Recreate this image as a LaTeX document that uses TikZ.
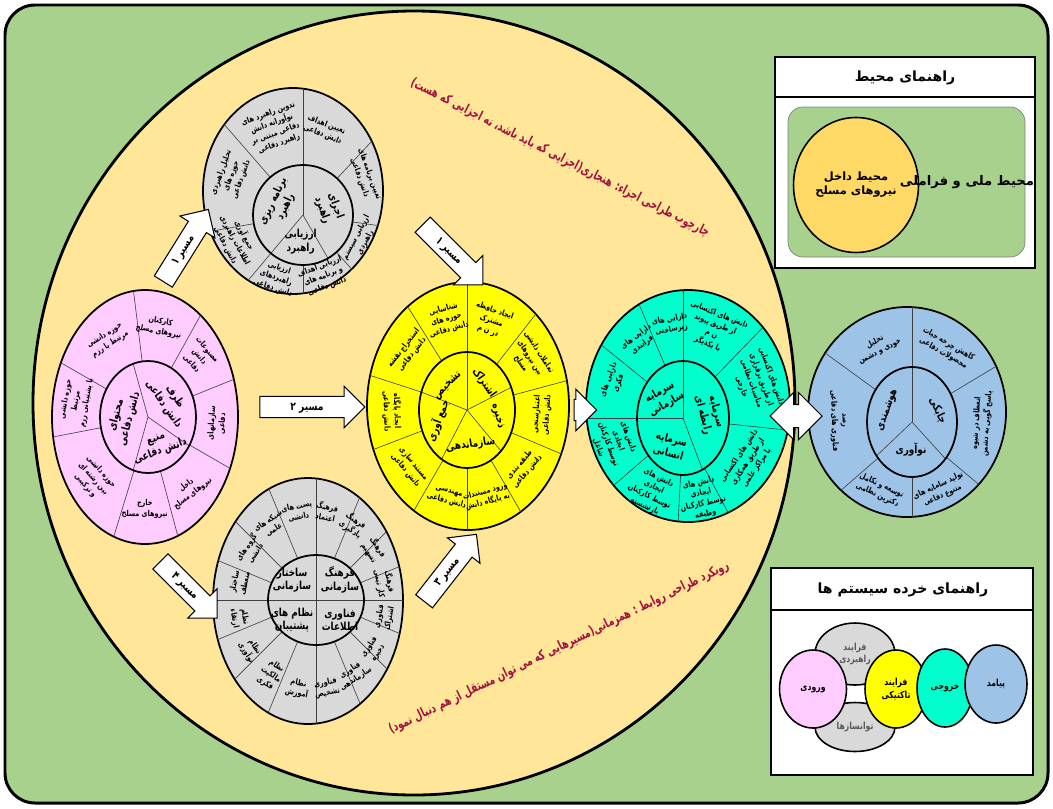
\documentclass[tikz,border=0pt]{standalone}
\usepackage{fontspec}
\usepackage{xcolor}
\usetikzlibrary{shapes.geometric, shapes.arrows, calc}
\newfontfamily\arabicfont[Script=Arabic]{DejaVu Sans}
\newfontfamily\narrowfont[Script=Arabic, FakeStretch=0.8]{DejaVu Sans}
\newfontfamily\titlefont[Script=Arabic, FakeStretch=0.7]{DejaVu Sans}
\TeXXeTstate=1
\newcommand{\fa}[1]{\mbox{\beginR#1\endR}}
\definecolor{FrameGreen}{HTML}{A9D18E}
\definecolor{FieldSand}{HTML}{FFE699}
\definecolor{LegendOrange}{HTML}{FFD966}
\definecolor{InputPink}{HTML}{FFCCFF}
\definecolor{ProcessGray}{HTML}{D9D9D9}
\definecolor{TacticYellow}{HTML}{FFFF00}
\definecolor{OutputCyan}{HTML}{00FFCC}
\definecolor{OutcomeBlue}{HTML}{9DC3E6}
\definecolor{TitleCrimson}{HTML}{A3123F}
\tikzset{
    wheelrim/.style={draw=black, line width=1pt},
    hubrim/.style={draw=black, line width=1pt},
    spoke/.style={draw=black!75, line width=0.35pt},
    petal/.style={
        font=\narrowfont\bfseries\fontsize{4.6}{6}\selectfont,
        align=center,
        inner sep=0pt
    },
    hublabel/.style={
        font=\narrowfont\bfseries\fontsize{6.3}{7.8}\selectfont,
        align=center,
        inner sep=0pt
    },
    routearrow/.style={
        single arrow, draw=black, fill=white, line width=0.6pt,
        single arrow head extend=0.2cm,
        inner xsep=2pt, inner ysep=2.5pt,
        text height=5pt, text depth=1.5pt,
        minimum height=1.7cm,
        font=\narrowfont\bfseries\fontsize{6.5}{7}\selectfont
    },
    twinarrow/.style={
        double arrow, draw=black, fill=white, line width=0.6pt,
        double arrow head extend=0.24cm,
        inner xsep=0pt, inner ysep=0.22cm,
        text height=0pt, text depth=0pt,
        minimum height=1.04cm
    },
    archtitle/.style={
        font=\titlefont\bfseries\fontsize{7.5}{9}\selectfont,
        text=TitleCrimson,
        inner sep=0pt
    },
    legendtitle/.style={
        font=\arabicfont\bfseries\fontsize{8}{9.5}\selectfont,
        inner sep=0pt
    },
    legendtext/.style={
        font=\arabicfont\bfseries\fontsize{7.5}{9}\selectfont,
        align=center,
        inner sep=0pt
    },
    miniball/.style={
        ellipse, draw=black, line width=0.9pt,
        inner sep=0pt, align=center,
        font=\narrowfont\bfseries\fontsize{5.5}{7}\selectfont
    }
}

\begin{document}
\begin{tikzpicture}[x=0.02cm, y=0.02cm]
    \useasboundingbox (0,0) rectangle (1053,-808);
    \fill[white] (0,0) rectangle (1053,-808);

    % Outer frame and design field
    \draw[line width=1.7pt, fill=FrameGreen, rounded corners=0.6cm] (5,-5) rectangle (1048,-803);
    \draw[line width=1.6pt, fill=FieldSand] (414,-403) ellipse [x radius=381, y radius=392];

    \node[archtitle, rotate=-27] (normtitle) at (560,-158)
        {\fa{چارچوب طراحی اجزاء: هنجاری(اجزایی که باید باشد، نه اجزایی که هست)}};
    \node[archtitle, rotate=26] (synctitle) at (559,-648)
        {\fa{رویکرد طراحی روابط : همزمانی(مسیرهایی که می توان مستقل از هم دنبال نمود)}};

    % Pink wheel
    \coordinate (pkc) at (145,-417);
    \coordinate (pkh) at (148,-417);
    \draw[wheelrim, fill=InputPink] (pkc) ellipse [x radius=93, y radius=127];
    \begin{scope}
        \clip (pkc) ellipse [x radius=93, y radius=127];
        \foreach \a in {97,61,22,-30,-75,-107,-169,150}
            \draw[spoke] (pkh) ++(\a:48 and 56) -- ++(\a:150);
    \end{scope}
    \foreach \a in {108,-31,-108}
        \draw[spoke] (pkh) -- ++(\a:48 and 56);
    \draw[hubrim] (pkh) ellipse [x radius=48, y radius=56];
    \foreach \a/\t [count=\i] in {
        123/{\fa{حوزه دانشی}\\\fa{مرتبط با رزم}},
        79/{\fa{کارکنان}\\\fa{نیروهای مسلح}},
        41/{\fa{مصنوعات}\\\fa{دانش}\\\fa{دفاعی}},
        -4/{\fa{سازمانهای}\\\fa{دفاعی}},
        -52/{\fa{داخل}\\\fa{نیروهای مسلح}},
        -91/{\fa{خارج}\\\fa{نیروهای مسلح}},
        -138/{\fa{حوزه دانشی}\\\fa{بین رشته ای}\\\fa{و ترکیبی}},
        170/{\fa{حوزه دانشی}\\\fa{مرتبط}\\\fa{با پشتیبانی رزم}}} {
        \pgfmathsetmacro\rot{\a>0 ? \a-90 : \a+90}
        \path (146,-417) ++(\a:71 and 92) node[petal, rotate=\rot] (pk\i) {\t};
    }
    \node[hublabel, rotate=75] (pkcontent) at ($(pkh)+(180:25)$) {\fa{محتوای}\\\fa{دانش دفاعی}};
    \node[hublabel, rotate=-55] (pkvessel) at ($(pkh)+(38:27)$) {\fa{ظرف}\\\fa{دانش دفاعی}};
    \node[hublabel, rotate=20] (pksource) at ($(pkh)+(-70:31)$) {\fa{منبع}\\\fa{دانش دفاعی}};

    % Top gray wheel: strategic process
    \coordinate (tgc) at (293,-191);
    \coordinate (tgh) at (303,-215);
    \draw[wheelrim, fill=ProcessGray] (tgc) ellipse [x radius=90, y radius=103];
    \begin{scope}
        \clip (tgc) ellipse [x radius=90, y radius=103];
        \foreach \a in {90,47,-8,-48,-90,-130,-170,131}
            \draw[spoke] (tgh) ++(\a:50) -- ++(\a:150);
    \end{scope}
    \foreach \a in {90,-60,-130}
        \draw[spoke] (tgh) -- ++(\a:50);
    \draw[hubrim] (tgh) circle [radius=50];
    \foreach \a/\t [count=\i] in {
        110/{\fa{تدوین راهبرد های}\\\fa{نوآورانه دانش}\\\fa{دفاعی مبتنی بر}\\\fa{راهبرد دفاعی}},
        68/{\fa{تعیین اهداف}\\\fa{دانش دفاعی}},
        20/{\fa{تعیین برنامه های}\\\fa{دانش دفاعی}},
        -28/{\fa{ارزیابی سیستم}\\\fa{راهبردی}},
        -69/{\fa{ارزیابی اهداف}\\\fa{و برنامه های}\\\fa{دانش دفاعی}},
        -108/{\fa{ارزیابی}\\\fa{راهبردهای}\\\fa{دانش دفاعی}},
        -152/{\fa{جمع آوری}\\\fa{اطلاعات راهبردی}\\\fa{دانش دفاعی}},
        160/{\fa{تحلیل راهبردی}\\\fa{حوزه های}\\\fa{دانش دفاعی}}} {
        \pgfmathsetmacro\rot{\a>0 ? \a-90 : \a+90}
        \path (298,-203) ++(\a:71 and 79) node[petal, rotate=\rot] (tg\i) {\t};
    }
    \node[hublabel, rotate=65] (tgplan) at ($(tgh)+(155:26)$) {\fa{برنامه ریزی}\\\fa{راهبرد}};
    \node[hublabel, rotate=-70] (tgrun) at ($(tgh)+(15:27)$) {\fa{اجرای}\\\fa{راهبرد}};
    \node[hublabel] (tgeval) at ($(tgh)+(-95:27)$) {\fa{ارزیابی}\\\fa{راهبرد}};

    % Bottom gray wheel: enablers
    \coordinate (bgc) at (308,-601);
    \coordinate (bgh) at (316,-600);
    \draw[wheelrim, fill=ProcessGray] (bgc) ellipse [x radius=95, y radius=123];
    \begin{scope}
        \clip (bgc) ellipse [x radius=95, y radius=123];
        \foreach \a in {0,22.5,...,337.5}
            \draw[spoke] (bgh) ++(\a:48 and 45) -- ++(\a:150);
    \end{scope}
    \foreach \a in {0,90,180,270}
        \draw[spoke] (bgh) -- ++(\a:48 and 45);
    \draw[hubrim] (bgh) ellipse [x radius=48, y radius=45];
    \foreach \a/\t [count=\i] in {
        78.75/{\fa{فرهنگ}\\\fa{اعتماد}},
        56.25/{\fa{فرهنگ}\\\fa{یادگیری}},
        33.75/{\fa{فرهنگ}\\\fa{تسهیم}},
        11.25/{\fa{فرهنگ}\\\fa{کار تیمی}},
        -11.25/{\fa{فناوری}\\\fa{اشتراک}},
        -33.75/{\fa{فناوری}\\\fa{ذخیره}},
        -56.25/{\fa{فناوری}\\\fa{سازماندهی}},
        -78.75/{\fa{فناوری}\\\fa{تشخیص}},
        -101.25/{\fa{نظام}\\\fa{آموزش}},
        -123.75/{\fa{نظام}\\\fa{مالکیت}\\\fa{فکری}},
        -146.25/{\fa{نظام}\\\fa{نوآوری}},
        -168.75/{\fa{نظام}\\\fa{ارتقاء}},
        168.75/{\fa{ساختار}\\\fa{منعطف}},
        146.25/{\fa{گروه های}\\\fa{دانشی}},
        123.75/{\fa{شبکه های}\\\fa{علمی}},
        101.25/{\fa{پست های}\\\fa{دانشی}}} {
        \pgfmathsetmacro\rot{\a>0 ? \a-90 : \a+90}
        \path (312,-600) ++(\a:74 and 90) node[petal, rotate=\rot] (bg\i) {\t};
    }
    \node[hublabel] (bgstruct) at ($(bgh)+(-24,20)$) {\fa{ساختار}\\\fa{سازمانی}};
    \node[hublabel] (bgculture) at ($(bgh)+(24,20)$) {\fa{فرهنگ}\\\fa{سازمانی}};
    \node[hublabel] (bgsupport) at ($(bgh)+(-24,-20)$) {\fa{نظام های}\\\fa{پشتیبان}};
    \node[hublabel] (bgit) at ($(bgh)+(24,-20)$) {\fa{فناوری}\\\fa{اطلاعات}};

    % Yellow wheel: tactical process
    \coordinate (ywc) at (468,-406);
    \coordinate (ywh) at (467,-410);
    \draw[wheelrim, fill=TacticYellow] (ywc) ellipse [x radius=101, y radius=124];
    \begin{scope}
        \clip (ywc) ellipse [x radius=101, y radius=124];
        \foreach \a in {90,52,15,-23,-60,-90,-120,-159,162,122}
            \draw[spoke] (ywh) ++(\a:48 and 58) -- ++(\a:150);
    \end{scope}
    \foreach \a in {90,23,-45,-122,162}
        \draw[spoke] (ywh) -- ++(\a:48 and 58);
    \draw[hubrim] (ywh) ellipse [x radius=48, y radius=58];
    \foreach \a/\t [count=\i] in {
        106/{\fa{شناسایی}\\\fa{حوزه های}\\\fa{دانش دفاعی}},
        71/{\fa{ایجاد حافظه}\\\fa{مشترک}\\\fa{در ن م}},
        33/{\fa{تعاملات دانشی}\\\fa{بین نیروهای}\\\fa{مسلح}},
        -4/{\fa{اعتبارسنجی}\\\fa{دانش دفاعی}},
        -41/{\fa{طبقه بندی}\\\fa{دانش دفاعی}},
        -75/{\fa{ورود مستندات}\\\fa{به پایگاه دانش}},
        -105/{\fa{مهندسی}\\\fa{دانش دفاعی}},
        -140/{\fa{مستند سازی}\\\fa{دانش دفاعی}},
        -178/{\fa{ایجاد پایگاه}\\\fa{دانش دفاعی}},
        142/{\fa{استخراج نقشه}\\\fa{دانش دفاعی}}} {
        \pgfmathsetmacro\rot{\a>0 ? \a-90 : \a+90}
        \path (467,-408) ++(\a:75 and 92) node[petal, rotate=\rot] (yw\i) {\t};
    }
    \node[hublabel, rotate=45] (ywdetect) at ($(ywh)+(128:31)$) {\fa{تشخیص}};
    \node[hublabel, rotate=-55] (ywshare) at ($(ywh)+(58:32)$) {\fa{اشتراک}};
    \node[hublabel, rotate=-75] (ywstore) at ($(ywh)+(-11:31)$) {\fa{ذخیره}};
    \node[hublabel, rotate=8] (yworganize) at ($(ywh)+(-84:35)$) {\fa{سازماندهی}};
    \node[hublabel, rotate=70] (ywgather) at ($(ywh)+(-160:31)$) {\fa{جمع آوری}};

    % Cyan wheel: output capital
    \coordinate (cyc) at (688,-406);
    \coordinate (cyh) at (683,-418);
    \draw[wheelrim, fill=OutputCyan] (cyc) ellipse [x radius=102, y radius=116];
    \begin{scope}
        \clip (cyc) ellipse [x radius=102, y radius=116];
        \foreach \a in {90,46,-6,-62,-93,-139,180,141,113}
            \draw[spoke] (cyh) ++(\a:46 and 57) -- ++(\a:150);
    \end{scope}
    \foreach \a in {90,180,-65}
        \draw[spoke] (cyh) -- ++(\a:46 and 57);
    \draw[hubrim] (cyh) ellipse [x radius=46, y radius=57];
    \foreach \a/\t [count=\i] in {
        101/{\fa{دارایی های}\\\fa{زیرساختی}},
        68/{\fa{دانش های اکتسابی}\\\fa{از طریق پیوند}\\\fa{ن م}\\\fa{با یکدیگر}},
        20/{\fa{دانش های اکتسابی}\\\fa{از طریق برقراری}\\\fa{مناسبات نظامی}\\\fa{خارجی}},
        -34/{\fa{دانش های اکتسابی}\\\fa{از طریق همکاری}\\\fa{با مراکز علمی}},
        -77/{\fa{دانش های}\\\fa{ایجادی}\\\fa{توسط کارکنان}\\\fa{وظیفه}},
        -116/{\fa{دانش های}\\\fa{ایجادی}\\\fa{توسط کارکنان}\\\fa{بازنشسته}},
        -160/{\fa{دانش های}\\\fa{ایجادی}\\\fa{توسط کارکنان}\\\fa{شاغل}},
        160/{\fa{دارایی های}\\\fa{فکری}},
        127/{\fa{دارایی های}\\\fa{فرایندی}}} {
        \pgfmathsetmacro\rot{\a>0 ? \a-90 : \a+90}
        \path (685,-412) ++(\a:76 and 89) node[petal, rotate=\rot] (cy\i) {\t};
    }
    \node[hublabel, rotate=30] (cyorg) at ($(cyh)+(135:28)$) {\fa{سرمایه}\\\fa{سازمانی}};
    \node[hublabel, rotate=-75] (cyrel) at ($(cyh)+(10:27)$) {\fa{سرمایه}\\\fa{رابطه ای}};
    \node[hublabel, rotate=-15] (cyhuman) at ($(cyh)+(-115:31)$) {\fa{سرمایه}\\\fa{انسانی}};

    % Blue wheel: outcomes
    \coordinate (blc) at (907,-412);
    \coordinate (blh) at (912,-422);
    \draw[wheelrim, fill=OutcomeBlue] (blc) ellipse [x radius=99, y radius=105];
    \begin{scope}
        \clip (blc) ellipse [x radius=99, y radius=105];
        \foreach \a in {90,31,-40,-90,-139,144}
            \draw[spoke] (blh) ++(\a:45 and 55) -- ++(\a:150);
    \end{scope}
    \foreach \a in {90,-42,-142}
        \draw[spoke] (blh) -- ++(\a:45 and 55);
    \draw[hubrim] (blh) ellipse [x radius=45, y radius=55];
    \foreach \a/\t [count=\i] in {
        117/{\fa{تحلیل}\\\fa{خودی و دشمن}},
        60/{\fa{کاهش چرخه حیات}\\\fa{محصولات دفاعی}},
        -4/{\fa{انعطاف در شیوه}\\\fa{پاسخ گویی به دشمن}},
        -65/{\fa{تولید سامانه های}\\\fa{متنوع دفاعی}},
        -115/{\fa{توسعه و تکامل}\\\fa{دکترین نظامی}},
        -178/{\fa{رصد}\\\fa{فناوری های دفاعی}}} {
        \pgfmathsetmacro\rot{\a>0 ? \a-90 : \a+90}
        \path (910,-418) ++(\a:72 and 80) node[petal, rotate=\rot] (bl\i) {\t};
    }
    \node[hublabel, rotate=70] (blsmart) at ($(blh)+(154:27)$) {\fa{هوشمندی}};
    \node[hublabel, rotate=-65] (blagile) at ($(blh)+(24:28)$) {\fa{چابکی}};
    \node[hublabel] (blinnov) at ($(blh)+(-92:28)$) {\fa{نوآوری}};

    % Route arrows
    \node[routearrow, rotate=58] (route1a) at (183,-250) {\fa{مسیر ۱}};
    \node[routearrow, rotate=-45] (route1b) at (449,-251) {\fa{مسیر ۱}};
    \node[routearrow, minimum height=2.1cm] (route2) at (307,-407) {\fa{مسیر ۲}};
    \node[routearrow, rotate=52] (route3) at (447,-572) {\fa{مسیر ۳}};
    \node[routearrow, rotate=-45, minimum height=1.6cm] (route4) at (185,-586) {\fa{مسیر ۴}};
    \node[routearrow, minimum height=0.45cm, inner xsep=0pt] (feedarrow) at (580,-410) {};
    \node[twinarrow] (linkarrow) at (796,-416) {};

    % Environment legend
    \draw[line width=1pt, fill=white] (775,-57) rectangle (1035,-268);
    \draw[line width=1pt] (775,-97) -- (1035,-97);
    \node[legendtitle] (envtitle) at (905,-78) {\fa{راهنمای محیط}};
    \draw[fill=FrameGreen, draw=black!50, rounded corners=0.3cm] (788,-107) rectangle (1025,-257);
    \node[miniball, fill=LegendOrange, minimum width=2.5cm, minimum height=2.7cm,
          font=\arabicfont\bfseries\fontsize{6.5}{8}\selectfont] (envinner) at (856,-185)
        {\fa{محیط داخل}\\\fa{نیروهای مسلح}};
    \node[legendtext] (envouter) at (967,-182) {\fa{محیط ملی و فراملی}};

    % Subsystem legend
    \draw[line width=1pt, fill=white] (771,-568) rectangle (1033,-775);
    \draw[line width=1pt] (771,-610) -- (1033,-610);
    \node[legendtitle] (subtitle) at (903,-590) {\fa{راهنمای خرده سیستم ها}};
    \node[miniball, fill=ProcessGray, minimum width=1.6cm, minimum height=1.24cm, text=black!65] (mstrat) at (855,-654)
        {\fa{فرایند}\\\fa{راهبردی}};
    \node[miniball, fill=ProcessGray, minimum width=1.6cm, minimum height=0.98cm, text=black!65] (menable) at (855,-727)
        {\fa{توانسازها}};
    \node[miniball, fill=InputPink, minimum width=1.34cm, minimum height=1.56cm] (minput) at (813,-689) {\fa{ورودی}};
    \node[miniball, fill=TacticYellow, minimum width=1.24cm, minimum height=1.56cm] (mtactic) at (896,-689)
        {\fa{فرایند}\\\fa{تاکتیکی}};
    \node[miniball, fill=OutputCyan, minimum width=1.12cm, minimum height=1.56cm] (moutput) at (945,-688) {\fa{خروجی}};
    \node[miniball, fill=OutcomeBlue, minimum width=1.24cm, minimum height=1.56cm] (moutcome) at (996,-684) {\fa{پیامد}};
\end{tikzpicture}
\end{document}
